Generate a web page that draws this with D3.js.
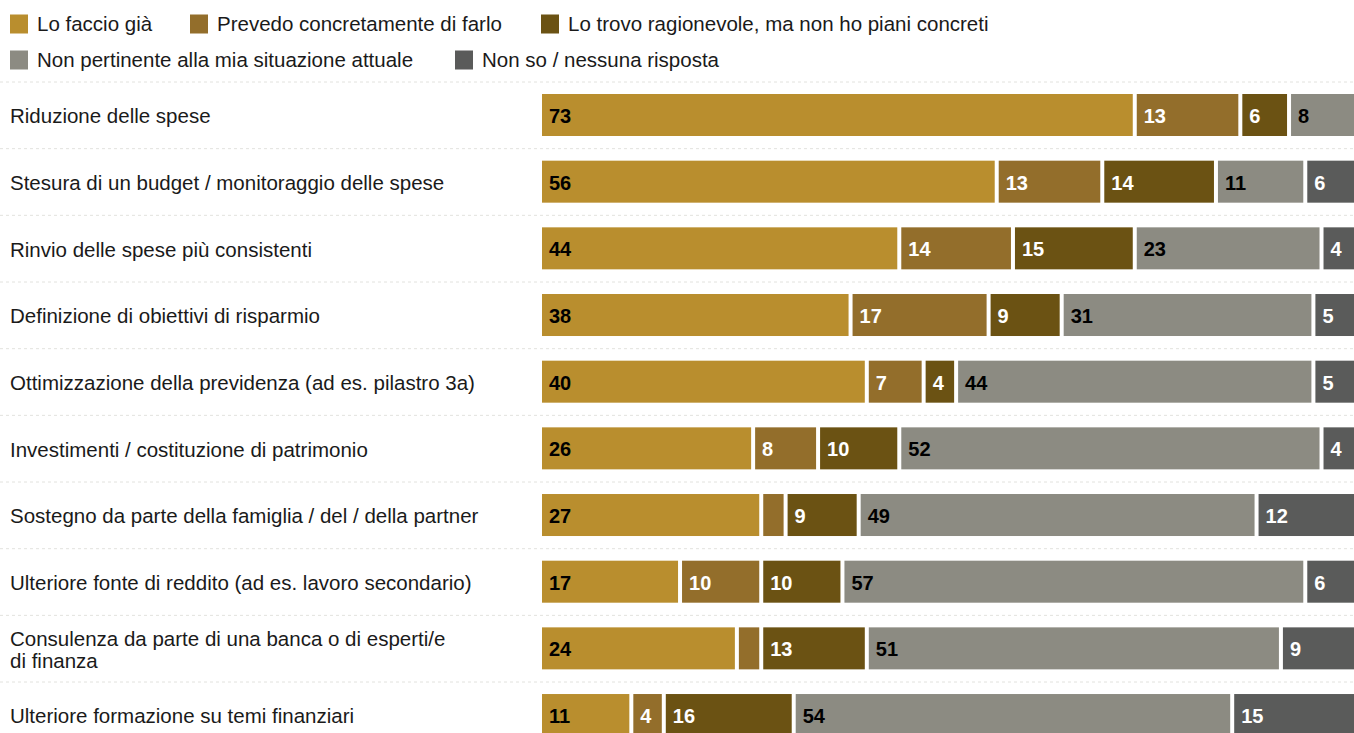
<!DOCTYPE html>
<html><head><meta charset="utf-8">
<script src="https://cdn.jsdelivr.net/npm/d3@7"></script>
<style>body{margin:0;background:#fff;}svg{display:block;font-family:"Liberation Sans",Arial,sans-serif;}</style>
</head><body><svg id="c" width="1354" height="733"></svg>
<script>
const categories = [
  ["Riduzione delle spese"],
  ["Stesura di un budget / monitoraggio delle spese"],
  ["Rinvio delle spese più consistenti"],
  ["Definizione di obiettivi di risparmio"],
  ["Ottimizzazione della previdenza (ad es. pilastro 3a)"],
  ["Investimenti / costituzione di patrimonio"],
  ["Sostegno da parte della famiglia / del / della partner"],
  ["Ulteriore fonte di reddito (ad es. lavoro secondario)"],
  ["Consulenza da parte di una banca o di esperti/e", "di finanza"],
  ["Ulteriore formazione su temi finanziari"]
];
const seriesNames = ["Lo faccio già","Prevedo concretamente di farlo","Lo trovo ragionevole, ma non ho piani concreti","Non pertinente alla mia situazione attuale","Non so / nessuna risposta"];
const faccioGia   = [73,56,44,38,40,26,27,17,24,11];
const prevedo     = [13,13,14,17,7,8,3,10,3,4];
const ragionevole = [6,14,15,9,4,10,9,10,13,16];
const nonPert     = [8,11,23,31,44,52,49,57,51,54];
const nonSo       = [0,6,4,5,5,4,12,6,9,15];
const colors = ["#b98e2e","#936e2b","#6b5213","#8c8b82","#5a5b5a"];
const textColors = ["#000","#fff","#fff","#000","#fff"];

const series = [faccioGia, prevedo, ragionevole, nonPert, nonSo];
const svg = d3.select("#c");

const x = d3.scaleLinear().domain([0,100]).range([542,1354]);
const y = d3.scaleBand().domain(d3.range(categories.length)).range([82, 82+66.67*10]).paddingInner(0).paddingOuter(0);
const barPadTop = 12, barH = 42;

// separators
const seps = d3.range(categories.length+1).map(i => 82 + i*y.bandwidth());
svg.selectAll("line.sep").data(seps).join("line")
  .attr("x1",0).attr("x2",1354).attr("y1",d=>d).attr("y2",d=>d)
  .attr("stroke","#e2e2de").attr("stroke-width",1).attr("stroke-dasharray","3,3");

// legend
const legendPos = [[10,24],[190,24],[541,24],[10,60],[455,60]];
const lg = svg.selectAll("g.lg").data(seriesNames).join("g")
  .attr("transform",(d,i)=>`translate(${legendPos[i][0]},${legendPos[i][1]})`);
lg.append("rect").attr("x",0).attr("y",-9.5).attr("width",18).attr("height",19).attr("fill",(d,i)=>colors[i]);
lg.append("text").attr("x",27).attr("y",7).attr("font-size",20.5).attr("fill","#1a1a1a").text(d=>d);

// labels
const lab = svg.selectAll("text.cat").data(categories).join("text")
  .attr("class","cat").attr("x",10).attr("font-size",20.5).attr("fill","#1a1a1a")
  .attr("y",(d,i)=> y(i)+y.bandwidth()/2 + 8 - (d.length-1)*11);
lab.selectAll("tspan").data(d=>d).join("tspan").attr("x",10).attr("dy",(d,j)=>j?22:0).text(d=>d);

// bars
categories.forEach((c,i)=>{
  let cum = 0;
  const segs = series.map((s,k)=>{const o={k,v:s[i],x0:cum,x1:cum+s[i]}; cum+=s[i]; return o;}).filter(o=>o.v>0);
  const g = svg.append("g");
  segs.forEach((s,j)=>{
    const left = x(s.x0) + (j>0?2:0);
    const right = x(s.x1) - (j<segs.length-1?2:0);
    g.append("rect").attr("x",left).attr("y",y(i)+barPadTop).attr("width",right-left).attr("height",barH).attr("fill",colors[s.k]);
    if (s.v>=4) g.append("text").attr("x",left+7).attr("y",y(i)+barPadTop+barH/2+8)
      .attr("font-size",20).attr("font-weight","bold").attr("fill",textColors[s.k]).text(s.v);
  });
});
</script></body></html>
